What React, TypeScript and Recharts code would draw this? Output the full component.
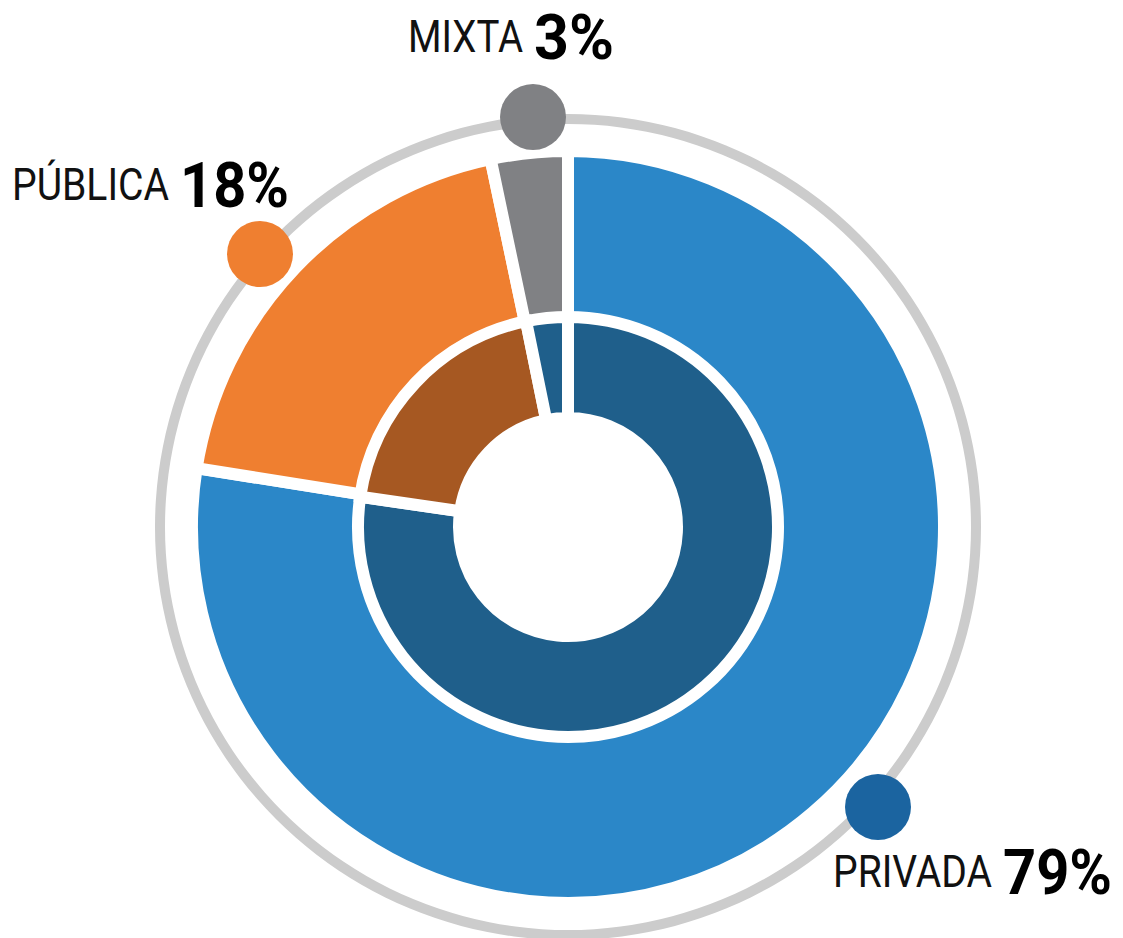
import React from "react";
import { PieChart, Pie, Cell } from "recharts";

const categories = ["PRIVADA", "PÚBLICA", "MIXTA"];
const labelPercents = ["79%", "18%", "3%"];
const outerValues = [77.5, 19.2, 3.3];
const innerValues = [77.3, 19.5, 3.2];

const outerColors = ["#2B87C8", "#EF7F30", "#808184"];
const innerColors = ["#1F5F8B", "#A65822", "#1F5F8B"];
const dotColors = ["#1B64A0", "#EF7F30", "#808184"];

const outerData = categories.map((name, i) => ({ name, value: outerValues[i] }));
const innerData = categories.map((name, i) => ({ name, value: innerValues[i] }));
const ringData = [{ name: "ring", value: 1 }];

const CX = 568;
const CY = 527;

// annotation layout (dot + label for each category)
const annotations = [
  { dot: [878, 807], name: { x: 833, y: 887, w: 159 }, pct: { x: 1003, y: 894, w: 109 } },
  { dot: [260, 254], name: { x: 12, y: 200, w: 157 }, pct: { x: 180, y: 207, w: 109 } },
  { dot: [533, 117], name: { x: 408, y: 52, w: 115 }, pct: { x: 534, y: 59, w: 80 } },
];

const FONT = "'Liberation Sans Narrow', 'Roboto', 'Liberation Sans', sans-serif";

const renderAnnotation = (props: any) => {
  const i = props.index as number;
  const a = annotations[i];
  if (!a) return null;
  return (
    <g key={categories[i]}>
      <circle cx={a.dot[0]} cy={a.dot[1]} r={33} fill={dotColors[i]} />
      <text
        x={a.name.x}
        y={a.name.y}
        fontFamily={FONT}
        fontSize={45}
        fill="#111"
        textLength={a.name.w}
        lengthAdjust="spacingAndGlyphs"
      >
        {categories[i]}
      </text>
      <text
        x={a.pct.x}
        y={a.pct.y}
        fontFamily={FONT}
        fontSize={63}
        fontWeight="bold"
        fill="#000"
        textLength={a.pct.w}
        lengthAdjust="spacingAndGlyphs"
      >
        {labelPercents[i]}
      </text>
    </g>
  );
};

export default function App() {
  return (
    <div style={{ position: "absolute", left: 0, top: 0, width: 1123, height: 938, background: "#fff" }}>
      <PieChart width={1123} height={938} margin={{ top: 0, right: 0, bottom: 0, left: 0 }}>
        <Pie
          data={ringData}
          dataKey="value"
          cx={CX}
          cy={CY}
          innerRadius={403}
          outerRadius={413}
          startAngle={90}
          endAngle={-270}
          stroke="none"
          fill="#CCCCCC"
          isAnimationActive={false}
        />
        <Pie
          data={outerData}
          dataKey="value"
          cx={CX}
          cy={CY}
          innerRadius={209}
          outerRadius={376}
          startAngle={90}
          endAngle={-270}
          stroke="#FFFFFF"
          strokeWidth={12}
          isAnimationActive={false}
        >
          {outerData.map((d, i) => (
            <Cell key={d.name} fill={outerColors[i]} />
          ))}
        </Pie>
        <Pie
          data={innerData}
          dataKey="value"
          cx={CX}
          cy={CY}
          innerRadius={109}
          outerRadius={210}
          startAngle={90}
          endAngle={-270}
          stroke="#FFFFFF"
          strokeWidth={12}
          isAnimationActive={false}
          label={renderAnnotation}
          labelLine={false}
        >
          {innerData.map((d, i) => (
            <Cell key={d.name} fill={innerColors[i]} />
          ))}
        </Pie>
      </PieChart>
    </div>
  );
}
